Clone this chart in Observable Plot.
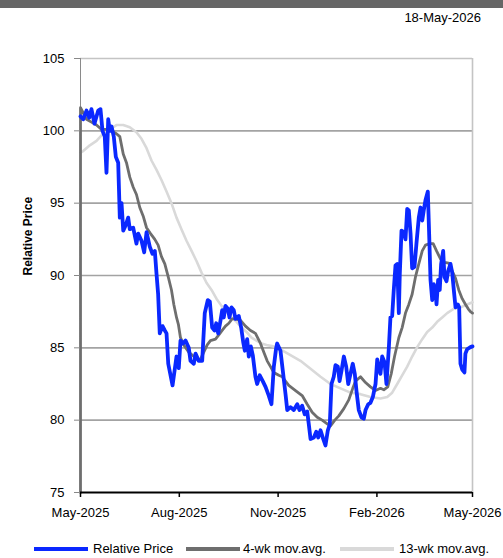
<!DOCTYPE html>
<html>
<head>
<meta charset="utf-8">
<script src="https://cdn.jsdelivr.net/npm/d3@7"></script>
<script src="https://cdn.jsdelivr.net/npm/@observablehq/plot@0.6"></script>
<style>
  html, body { margin: 0; padding: 0; background: #fff; }
  body { width: 503px; height: 558px; overflow: hidden; font-family: "Liberation Sans", Arial, sans-serif; position: relative; }
  #bar { position: absolute; left: 0; top: 0; width: 503px; height: 8px; background: #666666; }
  #date { position: absolute; right: 22px; top: 10px; font-size: 13px; color: #000; }
  #chart { position: absolute; left: 0; top: 30px; }
  #legend { position: absolute; left: 0; top: 530px; width: 503px; height: 28px; font-size: 13px; color: #000; }
  .sw { position: absolute; top: 17px; height: 4px; width: 54px; }
  .lt { position: absolute; top: 11px; line-height: 15px; white-space: nowrap; }
</style>
</head>
<body>
<div id="bar"></div>
<div id="date">18-May-2026</div>
<div id="chart"></div>
<div id="legend"></div>
<script>
// ---- data (days since 2025-05-01) ----
const seriesNames = ["Relative Price", "4-wk mov.avg.", "13-wk mov.avg."];
const seriesColors = ["#0a28ff", "#6e6e6e", "#d9d9d9"];

const priceDays = [0,2.5,5.6,8.1,10.2,13.0,16.5,18.6,20.5,22.6,24.2,25.8,27.3,28.9,31.0,32.9,35.1,36.6,38.2,39.8,42.2,44.4,45.9,49.1,52.1,53.7,56.8,59.3,61.5,64.5,67.0,69.2,70.8,72.3,73.8,76.4,78.5,80.1,81.7,85.7,89.4,91.5,93.1,95.3,97.8,100.8,102.4,105.5,107.1,110.1,113.3,115.7,118.5,120.4,122.6,124.8,126.4,128.2,130.4,131.9,133.4,135.0,137.2,138.7,140.6,142.7,144.3,147.4,149.6,151.5,153.0,155.2,156.7,158.6,160.4,162.9,164.5,166.9,169.7,172.3,175.3,177.8,180.0,182.2,183.1,186.2,188.4,190.9,192.5,195.5,198.6,201.8,203.9,206.4,208.8,211.1,212.6,214.2,217.3,219.5,221.4,223.5,225.6,228.1,230.3,232.1,233.7,235.8,237.4,239.6,241.2,243.0,245.2,247.4,249.3,251.4,253.5,255.4,257.0,259.1,261.6,263.8,265.4,267.9,270.0,272.2,274.7,276.3,277.7,279.3,280.9,283.1,284.9,287.1,288.6,290.2,291.7,293.3,294.9,296.4,297.3,298.9,301.0,302.6,304.2,305.7,307.3,308.8,311.0,312.8,315.0,316.6,318.2,319.6,321.2,323.4,325.0,325.9,327.5,329.0,330.5,331.5,333.0,334.5,335.8,337.7,338.9,340.8,342.3,344.5,346.1,347.6,349.2,351.3,352.6,353.8,355.4,357.5,358.4,360.0,363.1,365.0];
const priceValues = [101.0,100.8,101.4,100.9,101.5,100.5,101.4,101.5,100.0,99.6,97.1,100.8,100.0,100.3,99.6,98.2,97.8,94.0,95.0,93.1,93.5,94.0,93.2,93.3,92.2,92.9,92.4,91.6,93.0,92.0,91.5,91.7,90.1,88.7,86.0,86.5,86.2,86.0,83.9,82.4,84.4,83.6,85.5,85.3,85.5,85.0,84.1,83.9,84.6,84.1,84.1,87.4,88.3,88.2,86.4,86.2,86.7,86.0,86.9,87.6,87.1,87.9,87.7,87.1,87.8,87.6,87.0,87.2,86.4,85.4,84.8,85.6,84.4,85.1,84.5,83.0,82.5,83.1,82.7,82.3,81.7,81.1,83.7,85.0,85.3,84.8,83.4,81.8,80.7,80.9,80.7,81.1,80.7,81.0,80.4,80.6,79.7,78.7,78.8,79.2,78.8,79.3,78.8,78.25,79.3,79.7,82.5,83.0,83.8,83.7,82.7,83.4,84.4,83.7,82.5,83.2,83.9,83.2,82.0,80.7,80.2,80.1,80.7,81.1,81.2,81.6,82.5,84.2,83.6,83.2,84.4,84.0,82.5,85.0,87.1,87.2,89.0,90.7,90.8,87.4,90.1,93.1,93.0,92.5,94.6,94.5,92.9,90.5,90.6,92.2,94.0,94.7,93.8,94.5,95.2,95.8,92.0,89.7,88.3,89.4,89.0,88.0,89.7,89.0,90.8,91.7,89.9,89.6,90.3,90.8,90.2,89.0,87.8,88.0,87.8,83.9,83.5,83.3,84.6,84.9,85.05,85.1];

// first point of the 4-wk average starts off-scale (drawn as the vertical drop at the left edge)
const ma4Days = [0,0,5.6,10.2,14.9,19.6,24.2,28.9,33.5,36.6,39.8,42.8,45.9,49.1,52.1,55.2,58.4,61.5,65.2,69.2,72.3,75.4,78.5,81.7,84.7,86.9,89.4,91.2,93.1,96.2,100.8,105.5,108.7,111.7,114.8,118.0,121.0,125.7,128.8,131.9,135.0,138.1,141.2,144.3,149.0,153.6,158.3,162.9,167.6,170.7,173.8,176.9,180.0,184.6,187.8,193.9,200.2,206.4,211.1,215.7,220.4,225.0,229.7,232.8,236.8,240.5,245.2,249.8,253.5,256.1,260.7,265.4,270.0,274.7,279.3,282.4,286.1,289.3,292.4,296.4,299.5,302.6,305.7,308.8,311.9,315.0,318.2,321.2,325.2,328.4,331.5,335.2,338.9,342.9,346.1,349.2,352.2,355.4,358.5,361.0,363.1,365.0];
const ma4Values = [0,101.6,100.8,100.6,100.4,100.1,100.1,100.0,99.8,99.6,98.4,97.8,96.8,96.1,95.6,94.7,94.1,93.3,92.9,92.5,92.1,91.3,90.8,89.9,89.0,88.0,87.1,86.6,85.7,85.2,84.7,84.4,84.2,84.2,84.7,85.2,85.5,85.6,85.9,86.2,86.5,86.7,87.0,87.0,86.9,86.5,86.2,86.0,85.3,84.7,84.1,83.7,83.3,83.1,83.0,82.4,82.05,81.7,81.1,80.55,80.2,80.0,79.75,79.6,80.0,80.3,80.8,81.4,82.2,82.7,83.0,82.6,82.3,82.05,82.2,82.1,82.3,83.2,84.4,85.7,86.4,87.4,88.0,88.7,89.9,90.8,91.7,92.1,92.2,92.2,91.7,91.15,90.9,90.85,90.3,89.8,89.0,88.4,88.0,87.7,87.5,87.4];

const ma13Days = [0,2.5,8.7,14.9,21.1,27.3,33.5,39.8,45.9,52.1,56.8,61.5,66.1,70.8,75.4,80.1,84.7,89.4,94.0,98.7,103.4,108.0,112.7,117.3,122.0,126.6,131.3,135.9,140.6,145.3,149.9,154.6,159.2,163.9,168.5,173.2,179.4,186.2,195.5,204.8,214.2,223.5,232.8,242.1,251.4,260.7,270.0,279.3,285.6,290.2,294.9,299.5,304.2,308.8,313.5,318.2,322.8,327.5,332.1,336.8,341.4,347.6,353.8,360.0,365.0];
const ma13Values = [98.5,98.6,99.0,99.3,99.8,100.1,100.4,100.4,100.25,99.9,99.45,98.8,97.95,97.3,96.6,95.8,95.0,94.0,93.2,92.4,91.7,91.0,90.2,89.5,89.0,88.4,87.9,87.5,87.1,86.8,86.4,86.1,85.7,85.5,85.3,85.2,85.1,84.9,84.5,84.1,83.55,83.0,82.5,82.2,81.9,81.8,81.6,81.5,81.6,81.9,82.5,83.1,83.7,84.4,85.05,85.6,86.1,86.4,86.8,87.1,87.4,87.7,87.8,88.0,88.15];

const xTickLabels = ["2025-05-01", "2025-08-01", "2025-11-01", "2026-02-01", "2026-05-01"];
const yTickLabels = [75, 80, 85, 90, 95, 100, 105];
const gridValues = [80, 85, 90, 95, 100];

// ---- build ----
const start = new Date(Date.UTC(2025, 4, 1));
const toDate = d => new Date(start.getTime() + d * 864e5);
const zip = (days, vals) => days.map((d, i) => ({date: toDate(d), value: vals[i]}));
const price = zip(priceDays, priceValues);
const ma4 = zip(ma4Days, ma4Values);
const ma13 = zip(ma13Days, ma13Values);
const xTicks = xTickLabels.map(s => new Date(s + "T00:00:00Z"));

const chart = Plot.plot({
  width: 503,
  height: 500,
  marginTop: 28,
  marginBottom: 38,
  marginLeft: 80,
  marginRight: 31,
  style: {fontFamily: '"Liberation Sans", Arial, sans-serif', fontSize: "13px", background: "white", color: "black"},
  x: {type: "utc", domain: [xTicks[0], xTicks[xTicks.length - 1]]},
  y: {domain: [75, 105], clamp: true},
  marks: [
    Plot.ruleY(gridValues, {stroke: "#a3a3a3", strokeWidth: 1.6}),
    Plot.ruleY([105], {stroke: "#c4c4c4", strokeWidth: 1.6}),
    Plot.ruleX([xTicks[xTicks.length - 1]], {stroke: "#c4c4c4", strokeWidth: 1.6}),
    Plot.ruleX([xTicks[0]], {stroke: "#8a8a8a", strokeWidth: 1}),
    Plot.line(ma13, {x: "date", y: "value", stroke: seriesColors[2], strokeWidth: 2.6}),
    Plot.line(ma4, {x: "date", y: "value", stroke: seriesColors[1], strokeWidth: 2.8}),
    Plot.line(price, {x: "date", y: "value", stroke: seriesColors[0], strokeWidth: 3.8, strokeLinejoin: "round"}),
    Plot.ruleY([75], {stroke: "black", strokeWidth: 2}),
    Plot.axisX({ticks: xTicks, tickFormat: d3.utcFormat("%b-%Y"), tickSize: 5, tickPadding: 10, strokeWidth: 1.5, label: null}),
    Plot.axisY({ticks: yTickLabels, tickSize: 6, tickPadding: 10, stroke: "#888", label: null}),
    Plot.text(["Relative Price"], {frameAnchor: "left", rotate: -90, dx: -52, fontWeight: "bold", fontSize: 12})
  ]
});
document.getElementById("chart").appendChild(chart);

// ---- legend ----
const legend = document.getElementById("legend");
const swatchX = [34, 186, 340];
const textX = [93, 243, 399];
seriesNames.forEach((name, i) => {
  const sw = document.createElement("div");
  sw.className = "sw";
  sw.style.left = swatchX[i] + "px";
  sw.style.background = seriesColors[i];
  legend.appendChild(sw);
  const t = document.createElement("div");
  t.className = "lt";
  t.style.left = textX[i] + "px";
  t.textContent = name;
  legend.appendChild(t);
});
</script>
</body>
</html>
